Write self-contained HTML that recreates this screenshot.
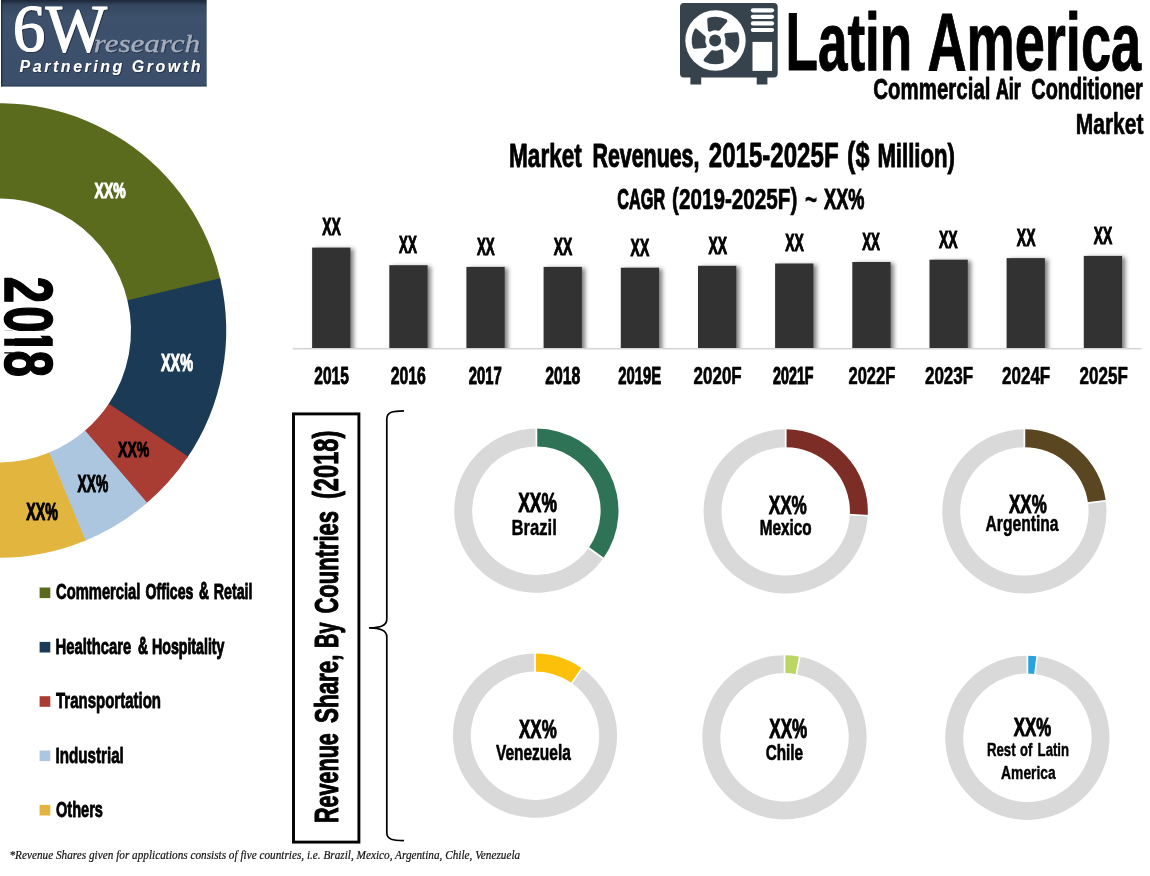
<!DOCTYPE html>
<html lang="en"><head><meta charset="utf-8"><title>Latin America Commercial Air Conditioner Market</title>
<style>html,body{margin:0;padding:0;background:#fff}body{width:1150px;height:876px;overflow:hidden}svg{display:block}.s{font-family:"Liberation Sans", Arial, sans-serif}.r{font-family:"Liberation Serif", "Times New Roman", serif}</style></head><body>
<svg width="1150" height="876" viewBox="0 0 1150 876">
<defs><linearGradient id="lg" x1="0" y1="0" x2="0" y2="1"><stop offset="0" stop-color="#1c2738"/><stop offset="0.06" stop-color="#34475f"/><stop offset="0.2" stop-color="#3d516c"/><stop offset="1" stop-color="#3b4f6a"/></linearGradient><filter id="ds" x="-20%" y="-10%" width="150%" height="120%"><feDropShadow dx="3.2" dy="1.2" stdDeviation="2.3" flood-color="#000" flood-opacity="0.5"/></filter><clipPath id="bc"><rect x="280" y="200" width="870" height="147.9"/></clipPath><filter id="lsh" x="-5%" y="-10%" width="110%" height="120%"><feDropShadow dx="0.8" dy="0.6" stdDeviation="0.5" flood-color="#0f1826" flood-opacity="0.75"/></filter></defs>
<rect width="1150" height="876" fill="#fff"/>
<g id="logo">
<rect x="1" y="0" width="205.7" height="86.4" fill="url(#lg)"/>
<rect x="1" y="0" width="1.4" height="86.4" fill="#1d2939" opacity="0.85"/><rect x="1" y="85.4" width="205.7" height="1" fill="#26354a" opacity="0.8"/>
<g filter="url(#lsh)">
<text class="r" transform="translate(12.80 51.44) scale(0.9598 1)" font-size="67.91" font-weight="normal" fill="#fff" stroke="#fff" stroke-width="1.2" stroke-linejoin="round">6W</text>
<text class="r" transform="translate(93.70 51.61) scale(1.2409 1)" font-size="25.04" font-weight="normal" fill="#a3adbd" font-style="italic" stroke="#a3adbd" stroke-width="0.3" stroke-linejoin="round">research</text>
<text class="s" transform="translate(19.60 71.90) scale(0.9866 1)" font-size="16.15" font-weight="bold" fill="#fff" font-style="italic" letter-spacing="2.6">Partnering Growth</text>
</g>
</g>
<g id="pie">
<path d="M-40.45 106.75A227.2 227.2 0 0 1 220.64 280.55L127.77 301.48A132 132 0 0 0 -23.92 200.51Z" fill="#5a6b1e"/>
<path d="M220.11 278.23A227.2 227.2 0 0 1 186.69 458.53L108.04 404.89A132 132 0 0 0 127.46 300.13Z" fill="#1b3a55"/>
<path d="M188.02 456.56A227.2 227.2 0 0 1 145.34 504.29L84.02 431.47A132 132 0 0 0 108.82 403.74Z" fill="#a93c33"/>
<path d="M147.16 502.75A227.2 227.2 0 0 1 83.37 541.45L48.02 453.06A132 132 0 0 0 85.08 430.57Z" fill="#adc6e0"/>
<path d="M85.58 540.56A227.2 227.2 0 0 1 -40.45 554.25L-23.92 460.49A132 132 0 0 0 49.30 452.54Z" fill="#e2b63e"/>
<text class="s" transform="translate(94.60 198.17) scale(0.6116 1)" font-size="22.89" font-weight="bold" fill="#fff" stroke="#fff" stroke-width="1.1" stroke-linejoin="round">XX%</text>
<text class="s" transform="translate(161.00 371.37) scale(0.6091 1)" font-size="23.63" font-weight="bold" fill="#fff" stroke="#fff" stroke-width="1.09" stroke-linejoin="round">XX%</text>
<text class="s" transform="translate(118.10 457.38) scale(0.6110 1)" font-size="22.92" font-weight="bold" fill="#000" stroke="#000" stroke-width="1.07" stroke-linejoin="round">XX%</text>
<text class="s" transform="translate(77.60 491.57) scale(0.5945 1)" font-size="23.19" font-weight="bold" fill="#000" stroke="#000" stroke-width="1.1" stroke-linejoin="round">XX%</text>
<text class="s" transform="translate(26.30 519.87) scale(0.6105 1)" font-size="23.33" font-weight="bold" fill="#000" stroke="#000" stroke-width="1.1" stroke-linejoin="round">XX%</text>
<text class="s" transform="translate(5.48 278.10) rotate(90) scale(0.7000 1)" x="-1.79 40.07 71.00 103.36" font-size="68.01" font-weight="bold" fill="#000" stroke="#000" stroke-width="1.6" stroke-linejoin="round">2018</text>
<path d="M3 330.2H14.6V338.8H3ZM3 345.7H14.6V352.3H3ZM14.6 331H56V335.7H14.6Z" fill="#fff"/>
</g>
<g id="legend">
<rect x="39.6" y="587.5" width="10.7" height="10.6" fill="#5a6b1e"/>
<rect x="39.6" y="641.9" width="10.7" height="10.6" fill="#1b3a55"/>
<rect x="39.6" y="696.2" width="10.7" height="10.6" fill="#a93c33"/>
<rect x="39.6" y="750.5" width="10.7" height="10.6" fill="#adc6e0"/>
<rect x="39.6" y="804.9" width="10.7" height="10.6" fill="#e2b63e"/>
<text class="s" transform="translate(56.00 599.23) scale(0.6542 1)" font-size="22.56" font-weight="bold" fill="#000" stroke="#000" stroke-width="0.89" stroke-linejoin="round">Commercial</text>
<text class="s" transform="translate(145.60 599.19) scale(0.6281 1)" font-size="22.45" font-weight="bold" fill="#000" stroke="#000" stroke-width="1.02" stroke-linejoin="round">Offices</text>
<text class="s" transform="translate(199.00 599.17) scale(0.5833 1)" font-size="23.48" font-weight="bold" fill="#000" stroke="#000" stroke-width="1.1" stroke-linejoin="round">&amp;</text>
<text class="s" transform="translate(213.70 599.24) scale(0.6309 1)" font-size="22.57" font-weight="bold" fill="#000" stroke="#000" stroke-width="0.88" stroke-linejoin="round">Retail</text>
<text class="s" transform="translate(55.50 653.75) scale(0.6569 1)" font-size="22.59" font-weight="bold" fill="#000" stroke="#000" stroke-width="0.85" stroke-linejoin="round">Healthcare</text>
<text class="s" transform="translate(138.00 653.67) scale(0.5833 1)" font-size="23.48" font-weight="bold" fill="#000" stroke="#000" stroke-width="1.1" stroke-linejoin="round">&amp;</text>
<text class="s" transform="translate(152.00 653.70) scale(0.6314 1)" font-size="22.46" font-weight="bold" fill="#000" stroke="#000" stroke-width="1.01" stroke-linejoin="round">Hospitality</text>
<text class="s" transform="translate(56.00 708.26) scale(0.6623 1)" font-size="22.65" font-weight="bold" fill="#000" stroke="#000" stroke-width="0.79" stroke-linejoin="round">Transportation</text>
<text class="s" transform="translate(55.50 762.76) scale(0.6706 1)" font-size="22.64" font-weight="bold" fill="#000" stroke="#000" stroke-width="0.8" stroke-linejoin="round">Industrial</text>
<text class="s" transform="translate(56.00 817.24) scale(0.6451 1)" font-size="22.59" font-weight="bold" fill="#000" stroke="#000" stroke-width="0.86" stroke-linejoin="round">Others</text>
</g>
<g id="header">
<path d="M684 3.1H773.7a4 4 0 0 1 4 4V73.5a4 4 0 0 1 -4 4H767.4V84.4H756.7V77.5H701.2V84.4H690.4V77.5H684a4 4 0 0 1 -4 -4V7.1a4 4 0 0 1 4 -4Z" fill="#36424c"/>
<circle cx="715.5" cy="40.5" r="30.2" fill="#fff"/>
<path d="M709.10 19.56A21.9 21.9 0 0 1 725.44 20.99L718.63 28.81A12.1 12.1 0 0 0 709.82 29.82Z" fill="#36424c" stroke="#36424c" stroke-width="3.8" stroke-linejoin="round"/>
<path d="M736.44 34.10A21.9 21.9 0 0 1 735.01 50.44L727.19 43.63A12.1 12.1 0 0 0 726.18 34.82Z" fill="#36424c" stroke="#36424c" stroke-width="3.8" stroke-linejoin="round"/>
<path d="M721.90 61.44A21.9 21.9 0 0 1 705.56 60.01L712.37 52.19A12.1 12.1 0 0 0 721.18 51.18Z" fill="#36424c" stroke="#36424c" stroke-width="3.8" stroke-linejoin="round"/>
<path d="M694.56 46.90A21.9 21.9 0 0 1 695.99 30.56L703.81 37.37A12.1 12.1 0 0 0 704.82 46.18Z" fill="#36424c" stroke="#36424c" stroke-width="3.8" stroke-linejoin="round"/>
<circle cx="715.1" cy="40.5" r="6" fill="#36424c"/>
<line x1="752.9" y1="10.3" x2="772" y2="10.3" stroke="#fff" stroke-width="4.2" stroke-linecap="round"/>
<line x1="752.9" y1="16.8" x2="772" y2="16.8" stroke="#fff" stroke-width="4.2" stroke-linecap="round"/>
<line x1="752.9" y1="23.4" x2="772" y2="23.4" stroke="#fff" stroke-width="4.2" stroke-linecap="round"/>
<line x1="752.9" y1="30" x2="772" y2="30" stroke="#fff" stroke-width="4.2" stroke-linecap="round"/>
<rect x="752.5" y="41.9" width="19.6" height="29" fill="#fff"/>
<text class="s" transform="translate(785.50 69.50) scale(0.6566 1)" font-size="80.81" font-weight="bold" fill="#000" stroke="#000" stroke-width="1.0" stroke-linejoin="round">Latin</text>
<text class="s" transform="translate(927.40 69.50) scale(0.6703 1)" font-size="80.81" font-weight="bold" fill="#000" stroke="#000" stroke-width="1.0" stroke-linejoin="round">America</text>
<text class="s" transform="translate(873.30 99.47) scale(0.7013 1)" font-size="29.20" font-weight="bold" fill="#000" stroke="#000" stroke-width="0.76" stroke-linejoin="round">Commercial</text>
<text class="s" transform="translate(995.90 99.37) scale(0.6159 1)" font-size="28.91" font-weight="bold" fill="#000" stroke="#000" stroke-width="1.1" stroke-linejoin="round">Air</text>
<text class="s" transform="translate(1031.30 99.45) scale(0.6829 1)" font-size="29.12" font-weight="bold" fill="#000" stroke="#000" stroke-width="0.85" stroke-linejoin="round">Conditioner</text>
<text class="s" transform="translate(1075.80 133.70) scale(0.7131 1)" font-size="29.42" font-weight="bold" fill="#000" stroke="#000" stroke-width="0.67" stroke-linejoin="round">Market</text>
</g>
<g id="bars">
<rect x="292.6" y="347.9" width="849" height="1.6" fill="#d6d6d6"/>
<g clip-path="url(#bc)"><g filter="url(#ds)">
<rect x="312.1" y="247.6" width="38.3" height="104.4" fill="#333"/>
<rect x="389.3" y="265.2" width="38.3" height="86.8" fill="#333"/>
<rect x="466.4" y="266.9" width="38.3" height="85.1" fill="#333"/>
<rect x="543.6" y="266.9" width="38.3" height="85.1" fill="#333"/>
<rect x="620.8" y="267.7" width="38.3" height="84.3" fill="#333"/>
<rect x="698.0" y="265.8" width="38.3" height="86.2" fill="#333"/>
<rect x="775.1" y="263.5" width="38.3" height="88.5" fill="#333"/>
<rect x="852.3" y="262.0" width="38.3" height="90.0" fill="#333"/>
<rect x="929.5" y="259.7" width="38.3" height="92.3" fill="#333"/>
<rect x="1006.6" y="258.1" width="38.3" height="93.9" fill="#333"/>
<rect x="1083.8" y="255.9" width="38.3" height="96.1" fill="#333"/>
</g></g>
<text class="s" transform="translate(509.00 167.15) scale(0.6904 1)" font-size="32.76" font-weight="bold" fill="#000" stroke="#000" stroke-width="0.82" stroke-linejoin="round">Market</text>
<text class="s" transform="translate(592.50 167.09) scale(0.6567 1)" font-size="32.56" font-weight="bold" fill="#000" stroke="#000" stroke-width="1.05" stroke-linejoin="round">Revenues,</text>
<text class="s" transform="translate(708.80 167.15) scale(0.7011 1)" font-size="34.34" font-weight="bold" fill="#000" stroke="#000" stroke-width="0.82" stroke-linejoin="round">2015-2025F</text>
<text class="s" transform="translate(847.00 167.17) scale(0.7350 1)" font-size="34.37" font-weight="bold" fill="#000" stroke="#000" stroke-width="0.78" stroke-linejoin="round">($</text>
<text class="s" transform="translate(877.40 167.12) scale(0.6791 1)" font-size="32.67" font-weight="bold" fill="#000" stroke="#000" stroke-width="0.92" stroke-linejoin="round">Million)</text>
<text class="s" transform="translate(617.30 209.27) scale(0.5629 1)" font-size="28.86" font-weight="bold" fill="#000" stroke="#000" stroke-width="1.1" stroke-linejoin="round">CAGR</text>
<text class="s" transform="translate(672.10 209.39) scale(0.7080 1)" font-size="29.21" font-weight="bold" fill="#000" stroke="#000" stroke-width="0.7" stroke-linejoin="round">(2019-2025F)</text>
<text class="s" transform="translate(805.00 209.47) scale(0.7053 1)" font-size="29.43" font-weight="bold" fill="#000" stroke="#000" stroke-width="0.44" stroke-linejoin="round">~</text>
<text class="s" transform="translate(824.10 209.27) scale(0.6288 1)" font-size="28.86" font-weight="bold" fill="#000" stroke="#000" stroke-width="1.1" stroke-linejoin="round">XX%</text>
<text class="s" transform="translate(322.20 235.47) scale(0.6014 1)" font-size="23.19" font-weight="bold" fill="#000" stroke="#000" stroke-width="1.1" stroke-linejoin="round">XX</text>
<text class="s" transform="translate(314.30 384.13) scale(0.6666 1)" font-size="23.31" font-weight="bold" fill="#000" stroke="#000" stroke-width="0.9" stroke-linejoin="round">2015</text>
<text class="s" transform="translate(399.05 253.07) scale(0.5752 1)" font-size="23.19" font-weight="bold" fill="#000" stroke="#000" stroke-width="1.1" stroke-linejoin="round">XX</text>
<text class="s" transform="translate(390.70 384.15) scale(0.6772 1)" font-size="23.37" font-weight="bold" fill="#000" stroke="#000" stroke-width="0.83" stroke-linejoin="round">2016</text>
<text class="s" transform="translate(476.90 254.77) scale(0.5752 1)" font-size="23.19" font-weight="bold" fill="#000" stroke="#000" stroke-width="1.1" stroke-linejoin="round">XX</text>
<text class="s" transform="translate(468.70 384.10) scale(0.6398 1)" font-size="23.22" font-weight="bold" fill="#000" stroke="#000" stroke-width="1.01" stroke-linejoin="round">2017</text>
<text class="s" transform="translate(553.75 254.77) scale(0.5997 1)" font-size="23.19" font-weight="bold" fill="#000" stroke="#000" stroke-width="1.1" stroke-linejoin="round">XX</text>
<text class="s" transform="translate(545.20 384.15) scale(0.6775 1)" font-size="23.37" font-weight="bold" fill="#000" stroke="#000" stroke-width="0.83" stroke-linejoin="round">2018</text>
<text class="s" transform="translate(630.60 255.57) scale(0.5997 1)" font-size="23.19" font-weight="bold" fill="#000" stroke="#000" stroke-width="1.1" stroke-linejoin="round">XX</text>
<text class="s" transform="translate(618.20 384.12) scale(0.6380 1)" font-size="23.29" font-weight="bold" fill="#000" stroke="#000" stroke-width="0.93" stroke-linejoin="round">2019E</text>
<text class="s" transform="translate(708.45 253.67) scale(0.5997 1)" font-size="23.19" font-weight="bold" fill="#000" stroke="#000" stroke-width="1.1" stroke-linejoin="round">XX</text>
<text class="s" transform="translate(693.60 384.21) scale(0.7215 1)" font-size="23.54" font-weight="bold" fill="#000" stroke="#000" stroke-width="0.63" stroke-linejoin="round">2020F</text>
<text class="s" transform="translate(785.30 251.37) scale(0.6014 1)" font-size="23.19" font-weight="bold" fill="#000" stroke="#000" stroke-width="1.1" stroke-linejoin="round">XX</text>
<text class="s" transform="translate(773.10 384.07) scale(0.6169 1)" font-size="23.14" font-weight="bold" fill="#000" stroke="#000" stroke-width="1.1" stroke-linejoin="round">2021F</text>
<text class="s" transform="translate(862.15 249.87) scale(0.5752 1)" font-size="23.19" font-weight="bold" fill="#000" stroke="#000" stroke-width="1.1" stroke-linejoin="round">XX</text>
<text class="s" transform="translate(848.50 384.21) scale(0.7006 1)" font-size="23.54" font-weight="bold" fill="#000" stroke="#000" stroke-width="0.64" stroke-linejoin="round">2022F</text>
<text class="s" transform="translate(939.00 247.57) scale(0.6055 1)" font-size="23.19" font-weight="bold" fill="#000" stroke="#000" stroke-width="1.1" stroke-linejoin="round">XX</text>
<text class="s" transform="translate(924.90 384.22) scale(0.7240 1)" font-size="23.57" font-weight="bold" fill="#000" stroke="#000" stroke-width="0.6" stroke-linejoin="round">2023F</text>
<text class="s" transform="translate(1016.85 245.97) scale(0.5997 1)" font-size="23.19" font-weight="bold" fill="#000" stroke="#000" stroke-width="1.1" stroke-linejoin="round">XX</text>
<text class="s" transform="translate(1002.10 384.21) scale(0.7215 1)" font-size="23.54" font-weight="bold" fill="#000" stroke="#000" stroke-width="0.63" stroke-linejoin="round">2024F</text>
<text class="s" transform="translate(1093.70 243.77) scale(0.5997 1)" font-size="23.19" font-weight="bold" fill="#000" stroke="#000" stroke-width="1.1" stroke-linejoin="round">XX</text>
<text class="s" transform="translate(1079.60 384.21) scale(0.7224 1)" font-size="23.54" font-weight="bold" fill="#000" stroke="#000" stroke-width="0.63" stroke-linejoin="round">2025F</text>
</g>
<g id="countries">
<rect x="293.5" y="413.9" width="65.4" height="428.2" fill="none" stroke="#000" stroke-width="2.9"/>
<path d="M404 410.8 C393 411 386.8 411.6 386.8 419 L386.8 619 C386.8 626 380 627.6 369 627.9 C380 628.2 386.8 630 386.8 637 L386.8 832.5 C386.8 839.8 393 840.4 404 840.6" fill="none" stroke="#000" stroke-width="1.7"/>
<path d="M603.49 558.03A82.1 82.1 0 1 1 536.83 428.60L536.74 446.50A64.2 64.2 0 1 0 588.86 547.71Z" fill="#d9d9d9"/>
<path d="M536.40 428.60A82.1 82.1 0 0 1 603.24 558.38L588.67 547.98A64.2 64.2 0 0 0 536.40 446.50Z" fill="#2e7355"/>
<line x1="536.40" y1="447.70" x2="536.40" y2="427.20" stroke="#fff" stroke-width="1.7"/>
<line x1="587.69" y1="547.28" x2="604.38" y2="559.19" stroke="#fff" stroke-width="1.7"/>
<path d="M867.71 515.27A82.1 82.1 0 1 1 786.13 429.30L786.04 447.20A64.2 64.2 0 1 0 849.83 514.42Z" fill="#d9d9d9"/>
<path d="M785.70 429.30A82.1 82.1 0 0 1 867.69 515.70L849.81 514.76A64.2 64.2 0 0 0 785.70 447.20Z" fill="#7b2d26"/>
<line x1="785.70" y1="448.40" x2="785.70" y2="427.90" stroke="#fff" stroke-width="1.7"/>
<line x1="848.61" y1="514.70" x2="869.09" y2="515.77" stroke="#fff" stroke-width="1.7"/>
<path d="M1105.74 500.26A82.1 82.1 0 1 1 1024.83 429.30L1024.74 447.20A64.2 64.2 0 1 0 1088.01 502.69Z" fill="#d9d9d9"/>
<path d="M1024.40 429.30A82.1 82.1 0 0 1 1105.80 500.68L1088.05 503.02A64.2 64.2 0 0 0 1024.40 447.20Z" fill="#5a4620"/>
<line x1="1024.40" y1="448.40" x2="1024.40" y2="427.90" stroke="#fff" stroke-width="1.7"/>
<line x1="1086.86" y1="503.18" x2="1107.19" y2="500.50" stroke="#fff" stroke-width="1.7"/>
<path d="M581.74 668.20A82.1 82.1 0 1 1 535.43 653.60L535.34 671.50A64.2 64.2 0 1 0 571.55 682.92Z" fill="#d9d9d9"/>
<path d="M535.00 653.60A82.1 82.1 0 0 1 582.09 668.45L571.82 683.11A64.2 64.2 0 0 0 535.00 671.50Z" fill="#fdc00a"/>
<line x1="535.00" y1="672.70" x2="535.00" y2="652.20" stroke="#fff" stroke-width="1.7"/>
<line x1="571.14" y1="684.09" x2="582.89" y2="667.30" stroke="#fff" stroke-width="1.7"/>
<path d="M799.32 656.55A82.1 82.1 0 1 1 784.93 655.20L784.84 673.10A64.2 64.2 0 1 0 796.09 674.15Z" fill="#d9d9d9"/>
<path d="M784.50 655.20A82.1 82.1 0 0 1 799.74 656.63L796.42 674.22A64.2 64.2 0 0 0 784.50 673.10Z" fill="#bcd663"/>
<line x1="784.50" y1="674.30" x2="784.50" y2="653.80" stroke="#fff" stroke-width="1.7"/>
<line x1="796.20" y1="675.40" x2="800.00" y2="655.25" stroke="#fff" stroke-width="1.7"/>
<path d="M1036.69 656.23A82.1 82.1 0 1 1 1027.83 655.70L1027.74 673.60A64.2 64.2 0 1 0 1034.67 674.01Z" fill="#d9d9d9"/>
<path d="M1027.40 655.70A82.1 82.1 0 0 1 1037.12 656.28L1035.00 674.05A64.2 64.2 0 0 0 1027.40 673.60Z" fill="#27a4e0"/>
<line x1="1027.40" y1="674.80" x2="1027.40" y2="654.30" stroke="#fff" stroke-width="1.7"/>
<line x1="1034.86" y1="675.24" x2="1037.29" y2="654.89" stroke="#fff" stroke-width="1.7"/>
<text class="s" transform="translate(338.37 823.10) rotate(-90) scale(0.6469 1)" font-size="33.36" font-weight="bold" fill="#000" stroke="#000" stroke-width="1.09" stroke-linejoin="round">Revenue</text>
<text class="s" transform="translate(338.39 723.00) rotate(-90) scale(0.6707 1)" font-size="33.42" font-weight="bold" fill="#000" stroke="#000" stroke-width="1.02" stroke-linejoin="round">Share,</text>
<text class="s" transform="translate(338.37 647.90) rotate(-90) scale(0.5945 1)" font-size="33.35" font-weight="bold" fill="#000" stroke="#000" stroke-width="1.1" stroke-linejoin="round">By</text>
<text class="s" transform="translate(338.38 613.60) rotate(-90) scale(0.6590 1)" font-size="33.39" font-weight="bold" fill="#000" stroke="#000" stroke-width="1.06" stroke-linejoin="round">Countries</text>
<text class="s" transform="translate(338.40 499.10) rotate(-90) scale(0.6762 1)" font-size="35.06" font-weight="bold" fill="#000" stroke="#000" stroke-width="0.99" stroke-linejoin="round">(2018)</text>
<text class="s" transform="translate(518.20 512.00) scale(0.6471 1)" font-size="26.90" font-weight="bold" fill="#000" stroke="#000" stroke-width="1.01" stroke-linejoin="round">XX%</text>
<text class="s" transform="translate(511.50 535.37) scale(0.7533 1)" font-size="22.13" font-weight="bold" fill="#000" stroke="#000" stroke-width="0.43" stroke-linejoin="round">Brazil</text>
<text class="s" transform="translate(768.70 514.02) scale(0.6458 1)" font-size="26.54" font-weight="bold" fill="#000" stroke="#000" stroke-width="0.92" stroke-linejoin="round">XX%</text>
<text class="s" transform="translate(759.70 535.31) scale(0.6977 1)" font-size="21.94" font-weight="bold" fill="#000" stroke="#000" stroke-width="0.64" stroke-linejoin="round">Mexico</text>
<text class="s" transform="translate(1009.10 512.69) scale(0.6392 1)" font-size="26.46" font-weight="bold" fill="#000" stroke="#000" stroke-width="1.02" stroke-linejoin="round">XX%</text>
<text class="s" transform="translate(985.50 530.54) scale(0.7199 1)" font-size="21.75" font-weight="bold" fill="#000" stroke="#000" stroke-width="0.54" stroke-linejoin="round">Argentina</text>
<text class="s" transform="translate(519.10 737.79) scale(0.6392 1)" font-size="26.46" font-weight="bold" fill="#000" stroke="#000" stroke-width="1.02" stroke-linejoin="round">XX%</text>
<text class="s" transform="translate(495.90 760.31) scale(0.7062 1)" font-size="21.96" font-weight="bold" fill="#000" stroke="#000" stroke-width="0.62" stroke-linejoin="round">Venezuela</text>
<text class="s" transform="translate(769.30 737.80) scale(0.6369 1)" font-size="26.77" font-weight="bold" fill="#000" stroke="#000" stroke-width="0.99" stroke-linejoin="round">XX%</text>
<text class="s" transform="translate(765.70 760.30) scale(0.6974 1)" font-size="21.93" font-weight="bold" fill="#000" stroke="#000" stroke-width="0.66" stroke-linejoin="round">Chile</text>
<text class="s" transform="translate(1013.70 736.37) scale(0.6306 1)" font-size="26.68" font-weight="bold" fill="#000" stroke="#000" stroke-width="1.1" stroke-linejoin="round">XX%</text>
<text class="s" transform="translate(986.90 755.76) scale(0.7164 1)" font-size="18.49" font-weight="bold" fill="#000" stroke="#000" stroke-width="0.46" stroke-linejoin="round">Rest</text>
<text class="s" transform="translate(1020.00 755.75) scale(0.7045 1)" font-size="18.45" font-weight="bold" fill="#000" stroke="#000" stroke-width="0.51" stroke-linejoin="round">of</text>
<text class="s" transform="translate(1037.60 755.77) scale(0.7107 1)" font-size="18.52" font-weight="bold" fill="#000" stroke="#000" stroke-width="0.43" stroke-linejoin="round">Latin</text>
<text class="s" transform="translate(1001.10 778.68) scale(0.7471 1)" font-size="18.55" font-weight="bold" fill="#000" stroke="#000" stroke-width="0.39" stroke-linejoin="round">America</text>
</g>
<text class="r" transform="translate(9.50 859.34) scale(0.9231 1)" font-size="12.18" font-weight="normal" fill="#111" font-style="italic" stroke="#111" stroke-width="0.2" stroke-linejoin="round">*Revenue Shares given for applications consists of five countries, i.e. Brazil, Mexico, Argentina, Chile, Venezuela</text>
</svg></body></html>
